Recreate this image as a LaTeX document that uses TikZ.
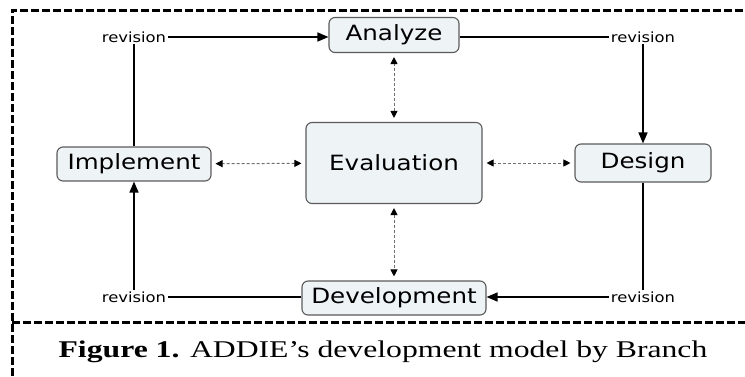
\documentclass[tikz,border=0pt]{standalone}
\usepackage{fontspec}
\usetikzlibrary{positioning, arrows.meta}
\newfontfamily\boxfont[FakeStretch=1.17]{DejaVu Sans}
\newfontfamily\capfont[FakeStretch=1.32, BoldFeatures={FakeStretch=1.32}]{Liberation Serif}
\definecolor{boxfill}{HTML}{EEF3F6}
\definecolor{boxline}{HTML}{5A5A5A}
\definecolor{dashline}{HTML}{707070}

\begin{document}
\begin{tikzpicture}[x=1bp, y=-1bp,
        phase/.style={draw=boxline, fill=boxfill, rounded corners=6bp, line width=1.1bp, inner sep=0pt,
                      font=\boxfont\fontsize{21bp}{25bp}\selectfont},
        rev/.style={inner sep=1.5bp, font=\boxfont\fontsize{14bp}{16bp}\selectfont},
        flow/.style={line width=1.5bp, -{Triangle[length=11bp, width=9bp]}},
        link/.style={line width=1.5bp},
        check/.style={draw=dashline, dash pattern=on 3bp off 2bp, line width=1bp, shorten <=4bp, shorten >=4bp,
                      {Triangle[length=7bp, width=7bp, color=black]}-{Triangle[length=7bp, width=7bp, color=black]}},
        frame/.style={line width=3bp, dash pattern=on 8bp off 3bp}]
        \useasboundingbox (0,0) rectangle (745,376);
        % outer frame
        \draw[frame] (12,376) -- (12,10) -- (745,10);
        \draw[frame] (12,322) -- (745,322);
        % phases
        \node[phase, minimum width=130bp, minimum height=35bp] (analyze) at (394,35) {Analyze};
        \node[phase, minimum width=154bp, minimum height=34bp] (implement) at (134,164) {Implement};
        \node[phase, minimum width=176bp, minimum height=81bp] (evaluation) at (394,163) {Evaluation};
        \node[phase, minimum width=136bp, minimum height=38bp] (design) at (643,163) {Design};
        \node[phase, minimum width=184bp, minimum height=34bp] (development) at (394,298) {Development};
        % revision labels
        \node[rev] (revTL) at (134,37) {revision};
        \node[rev] (revTR) at (643,37) {revision};
        \node[rev] (revBR) at (643,297) {revision};
        \node[rev] (revBL) at (134,297) {revision};
        % cycle
        \draw[link] (implement) -- (revTL);
        \draw[flow] (revTL) -- (analyze.west |- revTL);
        \draw[link] (analyze.east |- revTR) -- (revTR);
        \draw[flow] (revTR) -- (design);
        \draw[link] (design) -- (revBR);
        \draw[flow] (revBR) -- (development.east |- revBR);
        \draw[link] (development.west |- revBL) -- (revBL);
        \draw[flow] (revBL) -- (implement);
        % evaluation links
        \draw[check] (evaluation) -- (analyze);
        \draw[check] (evaluation) -- (implement);
        \draw[check] (evaluation) -- (design);
        \draw[check] (evaluation) -- (development);
        % caption
        \node[anchor=base, font=\capfont\fontsize{24bp}{28bp}\selectfont] (caption) at (383,357)
            {\textbf{Figure 1.} ADDIE’s development model by Branch};
\end{tikzpicture}
\end{document}
